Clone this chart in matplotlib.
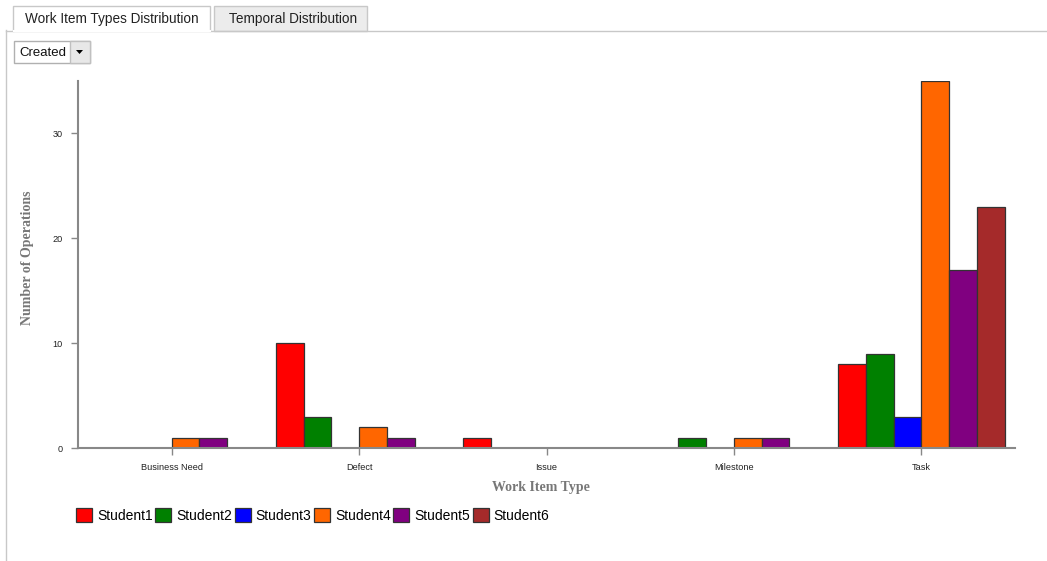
import matplotlib
matplotlib.use("Agg")
import matplotlib.pyplot as plt
from matplotlib.patches import Rectangle, Polygon
from matplotlib.lines import Line2D
import numpy as np

categories = ["Business Need", "Defect", "Issue", "Milestone", "Task"]
students = ["Student1", "Student2", "Student3", "Student4", "Student5", "Student6"]
colors = ["#ff0000", "#008000", "#0000ff", "#ff6600", "#800080", "#a52a2a"]
values = {
    "Student1": [0, 10, 1, 0, 8],
    "Student2": [0, 3, 0, 1, 9],
    "Student3": [0, 0, 0, 0, 3],
    "Student4": [1, 2, 0, 1, 35],
    "Student5": [1, 1, 0, 1, 17],
    "Student6": [0, 0, 0, 0, 23],
}
yticks = [0, 10, 20, 30]

W, H = 1047, 561
fig = plt.figure(figsize=(W / 100, H / 100), dpi=100)

def fx(x):
    return x / W

def fy(y):
    return 1 - y / H

# page frame
fig.add_artist(Line2D([fx(6), fx(6)], [fy(30), fy(561)], color="#c8c8c8", lw=1))
fig.add_artist(Line2D([fx(6), fx(13)], [fy(30.5), fy(30.5)], color="#c8c8c8", lw=1))
fig.add_artist(Line2D([fx(210), fx(1047)], [fy(30.5), fy(30.5)], color="#c8c8c8", lw=1))
# tabs
fig.add_artist(Rectangle((fx(13), fy(31)), fx(197), fy(6) - fy(31), transform=fig.transFigure,
                         facecolor="white", edgecolor="#c8c8c8", lw=1))
fig.add_artist(Line2D([fx(13.5), fx(209.5)], [fy(31), fy(31)], color="white", lw=1.5))
fig.text(fx(112), fy(19), "Work Item Types Distribution", ha="center", va="center",
         fontsize=9.8, family="Liberation Sans", color="#222222")
fig.add_artist(Rectangle((fx(214), fy(30.5)), fx(153), fy(6) - fy(30.5), transform=fig.transFigure,
                         facecolor="#ececec", edgecolor="#c8c8c8", lw=1))
fig.text(fx(293), fy(19), "Temporal Distribution", ha="center", va="center",
         fontsize=9.8, family="Liberation Sans", color="#222222")
# dropdown
fig.add_artist(Rectangle((fx(14), fy(63)), fx(76), fy(41) - fy(63), transform=fig.transFigure,
                         facecolor="white", edgecolor="#b0b0b0", lw=1))
fig.add_artist(Rectangle((fx(70), fy(62.5)), fx(19.5), fy(41.5) - fy(62.5), transform=fig.transFigure,
                         facecolor="#e8e8e8", edgecolor="#c0c0c0", lw=1))
fig.add_artist(Polygon([[fx(76), fy(50)], [fx(83), fy(50)], [fx(79.5), fy(54)]],
                       closed=True, transform=fig.transFigure, facecolor="black", edgecolor="none"))
fig.text(fx(19.5), fy(52.5), "Created", ha="left", va="center",
         fontsize=9.5, family="Liberation Sans", color="#111111")

# chart
ax = fig.add_axes([fx(78), fy(448), fx(1015) - fx(78), fy(81) - fy(448)])
n = len(students)
x = np.arange(len(categories))
bw = 0.148
for i, s in enumerate(students):
    ax.bar(x + (i - n / 2 + 0.5) * bw, values[s], width=bw, color=colors[i],
           edgecolor="#333333", linewidth=0.9, label=s, zorder=2)

ax.set_xlim(-0.5, len(categories) - 0.5)
ax.set_ylim(0, 35)
ax.set_xticks(x)
ax.set_xticklabels(categories, fontsize=6.6, family="Liberation Sans", color="#222222")
ax.set_yticks(yticks)
ax.set_yticklabels([str(t) for t in yticks], fontsize=6.6, family="Liberation Sans", color="#222222")
ax.tick_params(axis="both", direction="out", length=5, width=1, color="#888888", pad=6)
for sp in ["top", "right"]:
    ax.spines[sp].set_visible(False)
for sp in ["left", "bottom"]:
    ax.spines[sp].set_color("#888888")
    ax.spines[sp].set_linewidth(1.5)
ax.set_facecolor("none")

fig.text(fx(541), fy(488), "Work Item Type", ha="center", va="center", fontsize=10,
         family="Liberation Serif", weight="bold", color="#777777")
fig.text(fx(28), fy(258), "Number of Operations", ha="center", va="center", fontsize=10,
         family="Liberation Serif", weight="bold", color="#777777", rotation=90)

leg = fig.legend(loc="center left", bbox_to_anchor=(fx(76), fy(515.5)), ncol=6, frameon=False,
                 prop={"family": "Liberation Sans", "size": 10},
                 handlelength=1.15, handleheight=1.15, handletextpad=0.35, columnspacing=0.2,
                 borderaxespad=0, borderpad=0)

fig.savefig("out.png", dpi=100)
